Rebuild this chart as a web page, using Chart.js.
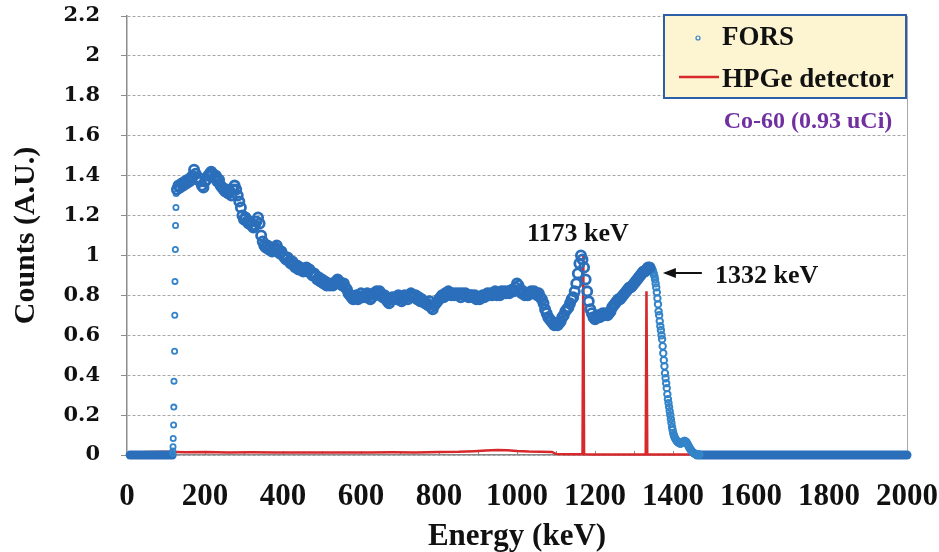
<!DOCTYPE html>
<html>
<head>
<meta charset="utf-8">
<script src="https://cdn.jsdelivr.net/npm/chart.js@4.4.1/dist/chart.umd.min.js"></script>
<style>
  html, body { margin: 0; padding: 0; background: #fff; }
  #wrap { width: 939px; height: 552px; }
</style>
</head>
<body>
<div id="wrap"><canvas id="grafico" width="939" height="552"></canvas></div>
<script>
// --- data (energy in keV, counts in A.U.) ---
const forsEdgeEnergy = [117, 117.5, 118, 118.5, 119.5, 120, 120.5, 122, 122.5, 123, 124, 124.5, 125.5, 126];
const forsEdgeCounts = [0.008, 0.02, 0.041, 0.083, 0.15, 0.24, 0.37, 0.52, 0.70, 0.87, 1.03, 1.15, 1.24, 1.31];

// channels from 128 keV every 4 keV
const forsBandStart = 128;
const forsBandStep = 4;
const forsBandCounts = [
  1.33, 1.35, 1.34, 1.36, 1.35, 1.37, 1.36, 1.38, 1.37, 1.39,
  1.40, 1.43, 1.41, 1.38, 1.39, 1.37, 1.35, 1.34, 1.37, 1.38,
  1.40, 1.41, 1.42, 1.41, 1.39, 1.40, 1.37, 1.38, 1.35, 1.34,
  1.33, 1.32, 1.33, 1.31, 1.32, 1.30, 1.33, 1.35, 1.33, 1.30,
  1.27, 1.24, 1.20, 1.18, 1.19, 1.17, 1.16, 1.17, 1.15, 1.14,
  1.15, 1.17, 1.19, 1.16, 1.10, 1.07, 1.05, 1.04, 1.05, 1.03,
  1.04, 1.02, 1.03, 1.04, 1.05, 1.03, 1.01, 1.02, 1.00, 0.99,
  0.98, 0.99, 0.97, 0.96, 0.97, 0.95, 0.94, 0.95, 0.93, 0.94,
  0.93, 0.92, 0.93, 0.94, 0.92, 0.93, 0.91, 0.90, 0.91, 0.90,
  0.88, 0.89, 0.87, 0.88, 0.86, 0.87, 0.85, 0.86, 0.85, 0.86,
  0.85, 0.86, 0.87, 0.88, 0.87, 0.86, 0.85, 0.86, 0.84, 0.83,
  0.81, 0.80, 0.79, 0.78, 0.79, 0.80, 0.78, 0.79, 0.81, 0.79,
  0.80, 0.79, 0.81, 0.80, 0.78, 0.79, 0.81, 0.80, 0.82, 0.81,
  0.82, 0.80, 0.79, 0.80, 0.78, 0.77, 0.76, 0.78, 0.79, 0.78,
  0.79, 0.78, 0.80, 0.79, 0.77, 0.78, 0.80, 0.79, 0.78, 0.80,
  0.81, 0.80, 0.79, 0.80, 0.78, 0.79, 0.77, 0.78, 0.77, 0.76,
  0.76, 0.75, 0.77, 0.74, 0.73, 0.75, 0.76, 0.77, 0.78, 0.79,
  0.80, 0.79, 0.81, 0.80, 0.82, 0.81, 0.80, 0.81, 0.80, 0.81,
  0.80, 0.81, 0.79, 0.81, 0.80, 0.81, 0.80, 0.79, 0.80, 0.80,
  0.79, 0.80, 0.78, 0.79, 0.78, 0.79, 0.80, 0.79, 0.80, 0.81,
  0.80, 0.81, 0.80, 0.81, 0.82, 0.80, 0.81, 0.80, 0.82, 0.81,
  0.82, 0.81, 0.82, 0.81, 0.82, 0.83, 0.82, 0.84, 0.86, 0.85,
  0.83, 0.81, 0.82, 0.80, 0.81, 0.80, 0.81, 0.82, 0.81, 0.82,
  0.81, 0.80, 0.81, 0.79, 0.78, 0.76, 0.73, 0.71, 0.69, 0.68,
  0.67, 0.66, 0.65, 0.66, 0.65, 0.66, 0.67, 0.69, 0.70, 0.72,
  0.73, 0.74, 0.76, 0.78, 0.79, 0.82, 0.86, 0.91, 0.96, 1.00,
  0.98, 0.94, 0.88, 0.82, 0.77, 0.73, 0.71, 0.69, 0.68, 0.69,
  0.70, 0.69, 0.70, 0.71, 0.70, 0.71, 0.70, 0.71, 0.72, 0.74,
  0.75, 0.76, 0.77, 0.78, 0.78, 0.79, 0.80, 0.81, 0.82, 0.83,
  0.84, 0.84, 0.85, 0.86, 0.87, 0.88, 0.89, 0.90, 0.91, 0.92,
  0.92, 0.93, 0.94, 0.94
];

// falling edge after the 1332 keV bump, channels every 1.5 keV
const forsTailStart = 1342;
const forsTailStep = 1.5;
const forsTailCounts = [
  0.945, 0.94, 0.935, 0.93, 0.925, 0.915, 0.905, 0.895, 0.88, 0.86,
  0.84, 0.815, 0.785, 0.755, 0.72, 0.70, 0.67, 0.645, 0.625, 0.60,
  0.58, 0.545, 0.51, 0.475, 0.445, 0.41, 0.385, 0.36, 0.335, 0.305,
  0.28, 0.26, 0.24, 0.22, 0.20, 0.18, 0.16, 0.14, 0.125, 0.11,
  0.10, 0.09, 0.085, 0.08, 0.075, 0.07, 0.068, 0.065, 0.062, 0.06,
  0.06, 0.058, 0.058, 0.06, 0.062, 0.064, 0.066, 0.068, 0.07, 0.07,
  0.068, 0.066, 0.062, 0.058, 0.052, 0.046, 0.04, 0.035, 0.03, 0.026,
  0.022, 0.018, 0.015, 0.012, 0.01, 0.008, 0.006, 0.005, 0.004, 0.003,
  0.003, 0.002, 0.002, 0.002, 0.002
];

// flat zero stretches below and above the spectrum
const forsFloorLeft = [8, 116];
const forsFloorRight = [1462, 2000];

const hpgeEnergy = [10, 60, 100, 150, 200, 260, 320, 380, 440, 500, 560, 620, 680, 740, 800, 850, 890, 920, 950, 975,
  1000, 1030, 1060, 1090, 1100, 1130, 1168, 1170, 1172, 1200, 1250, 1300, 1330, 1332, 1334, 1380, 1440, 1500, 2000];
const hpgeCounts = [0.012, 0.015, 0.016, 0.014, 0.015, 0.013, 0.014, 0.013, 0.012, 0.013, 0.012, 0.013, 0.014, 0.013, 0.015, 0.016, 0.019, 0.022, 0.025, 0.024,
  0.02, 0.017, 0.016, 0.015, 0.005, 0.004, 0.004, 1.0, 0.004, 0.003, 0.003, 0.003, 0.003, 0.82, 0.003, 0.003, 0.002, 0.002, 0.002];

const xTicks = [0, 200, 400, 600, 800, 1000, 1200, 1400, 1600, 1800, 2000];
const yTicks = [0, 0.2, 0.4, 0.6, 0.8, 1, 1.2, 1.4, 1.6, 1.8, 2, 2.2];

const serif = "'Liberation Serif', 'Times New Roman', serif";
const blue = '#2b6fbb';
const lightBlue = '#3484c9';
const red = '#d7282c';

const edgePoints = forsEdgeEnergy.map((e, i) => ({x: e, y: forsEdgeCounts[i]}));
const bandPoints = forsBandCounts.map((c, i) => ({x: forsBandStart + i * forsBandStep, y: c}));
const tailPoints = forsTailCounts.map((c, i) => ({x: forsTailStart + i * forsTailStep, y: c}));
const hpgePoints = hpgeEnergy.map((e, i) => ({x: e, y: hpgeCounts[i]}));

// legend box, right frame line, minor ticks and the peak labels
const extras = {
  id: 'extras',
  beforeDatasetsDraw(chart) {
    const {ctx, chartArea: a, scales: {x}} = chart;
    ctx.save();
    ctx.strokeStyle = '#a8a8a8';
    ctx.lineWidth = 1;
    ctx.beginPath();
    ctx.moveTo(a.right + 0.5, a.top);
    ctx.lineTo(a.right + 0.5, a.bottom);
    ctx.stroke();
    ctx.strokeStyle = '#8c8c8c';
    for (let e = 100; e < 2000; e += 100) {
      const px = Math.round(x.getPixelForValue(e)) + 0.5;
      ctx.beginPath();
      ctx.moveTo(px, a.bottom - 4);
      ctx.lineTo(px, a.bottom);
      ctx.stroke();
    }
    ctx.restore();
  },
  afterDraw(chart) {
    const {ctx, chartArea: a, scales: {x, y}} = chart;
    ctx.save();

    // legend
    const lx = a.right - 243, ly = a.top - 1, lw = 242, lh = 83;
    ctx.fillStyle = '#fdf5d2';
    ctx.fillRect(lx, ly, lw, lh);
    ctx.strokeStyle = '#2d5ea8';
    ctx.lineWidth = 2;
    ctx.strokeRect(lx, ly, lw, lh);

    ctx.strokeStyle = lightBlue;
    ctx.lineWidth = 1.2;
    ctx.beginPath();
    ctx.arc(lx + 34, ly + 23, 2, 0, Math.PI * 2);
    ctx.stroke();

    ctx.strokeStyle = red;
    ctx.lineWidth = 2.5;
    ctx.beginPath();
    ctx.moveTo(lx + 15, ly + 62);
    ctx.lineTo(lx + 55, ly + 62);
    ctx.stroke();

    ctx.fillStyle = '#111';
    ctx.font = 'bold 27px ' + serif;
    ctx.textAlign = 'left';
    ctx.textBaseline = 'alphabetic';
    ctx.fillText('FORS', lx + 58, ly + 30);
    ctx.fillText('HPGe detector', lx + 58, ly + 72);

    ctx.fillStyle = '#7030a0';
    ctx.font = 'bold 24px ' + serif;
    ctx.textAlign = 'center';
    ctx.fillText('Co-60 (0.93 uCi)', lx + 144, ly + 113);

    // peak labels
    ctx.fillStyle = '#111';
    ctx.font = 'bold 26px ' + serif;
    ctx.textBaseline = 'middle';
    ctx.fillText('1173 keV', x.getPixelForValue(1156), y.getPixelForValue(1.105));
    ctx.textAlign = 'left';
    ctx.fillText('1332 keV', x.getPixelForValue(1508), y.getPixelForValue(0.897));

    const ay = y.getPixelForValue(0.912);
    const ax0 = x.getPixelForValue(1474), ax1 = x.getPixelForValue(1374);
    ctx.strokeStyle = '#111';
    ctx.lineWidth = 2;
    ctx.beginPath();
    ctx.moveTo(ax0, ay);
    ctx.lineTo(ax1 + 8, ay);
    ctx.stroke();
    ctx.beginPath();
    ctx.moveTo(ax1, ay);
    ctx.lineTo(ax1 + 13, ay - 5);
    ctx.lineTo(ax1 + 13, ay + 5);
    ctx.closePath();
    ctx.fill();

    ctx.restore();
  }
};

const circles = (label, data, radius, width, color) => ({
  label: label,
  data: data,
  pointStyle: 'circle',
  pointRadius: radius,
  pointBorderWidth: width,
  borderColor: color,
  backgroundColor: 'rgba(255,255,255,0)',
  clip: false,
  order: 0
});

const floor = (label, energies) => ({
  label: label,
  data: energies.map(e => ({x: e, y: 0})),
  showLine: true,
  pointRadius: 0,
  borderWidth: 9,
  borderCapStyle: 'round',
  borderColor: blue,
  clip: false,
  order: 1
});

new Chart(document.getElementById('grafico').getContext('2d'), {
  type: 'scatter',
  data: {
    datasets: [
      circles('FORS', bandPoints, 4.6, 2.8, blue),
      circles('FORS edge', edgePoints, 2.6, 1.8, lightBlue),
      circles('FORS tail', tailPoints, 3.2, 2, lightBlue),
      floor('FORS floor left', forsFloorLeft),
      floor('FORS floor right', forsFloorRight),
      {
        label: 'HPGe detector',
        data: hpgePoints,
        showLine: true,
        pointRadius: 0,
        borderWidth: 2.5,
        borderColor: red,
        tension: 0,
        clip: false,
        order: 2
      }
    ]
  },
  options: {
    responsive: false,
    animation: false,
    layout: { padding: { top: 16, right: 32, bottom: 0, left: 0 } },
    scales: {
      x: {
        type: 'linear',
        min: 0,
        max: 2000,
        afterFit(s) { s.height = 97; s.paddingLeft = 0; s.paddingRight = 0; },
        afterBuildTicks(s) { s.ticks = xTicks.map(v => ({value: v})); },
        grid: { display: false },
        border: { display: true, color: '#8c8c8c', width: 1.5 },
        ticks: {
          autoSkip: false,
          maxRotation: 0,
          padding: 15,
          color: '#111',
          font: { family: serif, size: 31, weight: 'bold' },
          callback: v => String(v)
        },
        title: {
          display: true,
          text: 'Energy (keV)',
          color: '#111',
          padding: { top: 0, bottom: 0 },
          font: { family: serif, size: 31, weight: 'bold', lineHeight: 1 }
        }
      },
      y: {
        min: 0,
        max: 2.2,
        afterFit(s) { s.width = 127; s.paddingTop = 0; s.paddingBottom = 0; },
        afterBuildTicks(s) { s.ticks = yTicks.map(v => ({value: v})); },
        grid: {
          color: '#a8a8a8',
          lineWidth: 1,
          drawTicks: true,
          tickLength: 6,
          tickColor: '#8c8c8c',
          tickBorderDash: []
        },
        border: { display: true, color: '#8c8c8c', width: 1.5, dash: [3, 2] },
        ticks: {
          padding: 21,
          color: '#111',
          font: { family: "'DejaVu Serif', serif", size: 21, weight: 'bold' },
          callback: v => String(Number(v.toFixed(1)))
        },
        title: {
          display: true,
          text: 'Counts (A.U.)',
          color: '#111',
          padding: { top: 11, bottom: 0 },
          font: { family: serif, size: 30, weight: 'bold', lineHeight: 1 }
        }
      }
    },
    plugins: {
      legend: { display: false },
      tooltip: { enabled: false }
    }
  },
  plugins: [extras]
});
</script>
</body>
</html>
